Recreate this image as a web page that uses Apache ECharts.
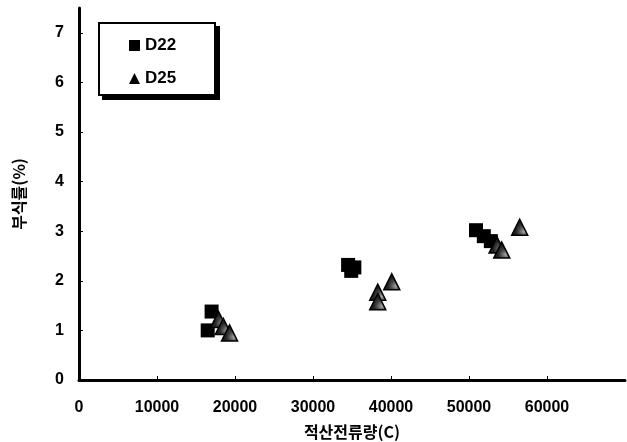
<!DOCTYPE html>
<html>
<head>
    <meta http-equiv="Content-Type" content="text/html; charset=UTF-8">
    <script type="text/javascript" src="https://cdn.jsdelivr.net/npm/echarts@6/dist/echarts.min.js" charset="utf-8"></script>
    <style>
        html, body { margin: 0; padding: 0; background: #fff; }
    </style>
</head>
<body>
<div id="main" style="width: 627px;height:442px;"></div>
<script>
    // 적산전류량(C) / 부식률(%)
    var d22X = [16500, 17000, 34500, 35300, 34900, 50900, 51900, 52800];
    var d22Y = [1.0, 1.38, 2.32, 2.27, 2.2, 3.02, 2.9, 2.8];
    var d25X = [17900, 18500, 19300, 38300, 38300, 40100, 53600, 54200, 56500];
    var d25Y = [1.22, 1.08, 0.95, 1.77, 1.58, 1.98, 2.72, 2.62, 3.08];
    var xTicks = [0, 10000, 20000, 30000, 40000, 50000, 60000];

    function pairs(xs, ys) {
        var out = [];
        for (var i = 0; i < xs.length; i++) {
            out.push([xs[i], ys[i]]);
        }
        return out;
    }

    // 삼각형 안의 빗금 무늬
    var pat = document.createElement('canvas');
    pat.width = 4;
    pat.height = 4;
    var ctx = pat.getContext('2d');
    ctx.fillStyle = '#222';
    ctx.fillRect(0, 0, 4, 4);
    ctx.fillStyle = '#aaa';
    ctx.fillRect(0, 0, 1, 1);
    ctx.fillRect(2, 2, 1, 1);

    var latin = '"Liberation Sans", Arial, sans-serif';
    var korean = '"Noto Sans CJK KR", sans-serif';

    var myChart = echarts.init(document.getElementById('main'));
    myChart.setOption({
        animation: false,
        grid: {
            left: 79,
            right: 2,
            top: 8,
            bottom: 62,
            outerBoundsMode: 'none'
        },
        graphic: [
            {   // 범례 상자 그림자
                type: 'rect',
                left: 102,
                top: 26,
                shape: {width: 118, height: 74},
                style: {fill: '#000'},
                z: 1
            },
            {
                type: 'rect',
                left: 98,
                top: 22,
                shape: {width: 116, height: 72},
                style: {fill: '#fff', stroke: '#000', lineWidth: 2},
                z: 2
            }
        ],
        legend: {
            left: 129,
            top: 37,
            orient: 'vertical',
            padding: 0,
            itemGap: 16,
            itemWidth: 11,
            itemHeight: 11,
            z: 5,
            textStyle: {
                fontFamily: latin,
                fontWeight: 'bold',
                fontSize: 17,
                color: '#000'
            },
            data: [
                {name: 'D22', icon: 'rect', itemStyle: {color: '#000', borderWidth: 0}},
                {name: 'D25', icon: 'triangle', itemStyle: {color: '#000', borderWidth: 0}}
            ]
        },
        xAxis: {
            type: 'value',
            min: 0,
            max: 70000,
            interval: 10000,
            name: '적산전류량(C)',
            nameLocation: 'middle',
            nameGap: 44,
            nameTextStyle: {
                fontFamily: korean,
                fontWeight: 'bold',
                fontSize: 16,
                color: '#000'
            },
            splitLine: {show: false},
            axisLine: {lineStyle: {color: '#000', width: 3}},
            axisTick: {inside: true, length: 4, lineStyle: {color: '#000', width: 1}},
            axisLabel: {
                showMaxLabel: false,
                margin: 20,
                fontFamily: latin,
                fontWeight: 'bold',
                fontSize: 16,
                color: '#000',
                formatter: function (v) {
                    return xTicks.indexOf(v) >= 0 ? String(v) : '';
                }
            }
        },
        yAxis: {
            type: 'value',
            min: 0,
            max: 7.5,
            interval: 1,
            name: '부식률(%)',
            nameLocation: 'middle',
            nameGap: 52,
            nameTextStyle: {
                fontFamily: korean,
                fontWeight: 'bold',
                fontSize: 16,
                color: '#000'
            },
            splitLine: {show: false},
            axisLine: {lineStyle: {color: '#000', width: 3}},
            axisTick: {inside: true, length: 4, lineStyle: {color: '#000', width: 1}},
            axisLabel: {
                showMaxLabel: false,
                margin: 15,
                fontFamily: latin,
                fontWeight: 'bold',
                fontSize: 16,
                color: '#000'
            }
        },
        series: [
            {
                name: 'D22',
                type: 'scatter',
                symbol: 'rect',
                symbolSize: 14,
                itemStyle: {color: '#000', opacity: 1},
                data: pairs(d22X, d22Y)
            },
            {
                name: 'D25',
                type: 'scatter',
                symbol: 'triangle',
                symbolSize: 16,
                itemStyle: {
                    color: {image: pat, repeat: 'repeat'},
                    borderColor: '#000',
                    borderWidth: 1.5,
                    opacity: 1
                },
                data: pairs(d25X, d25Y)
            }
        ]
    });
</script>
</body>
</html>
